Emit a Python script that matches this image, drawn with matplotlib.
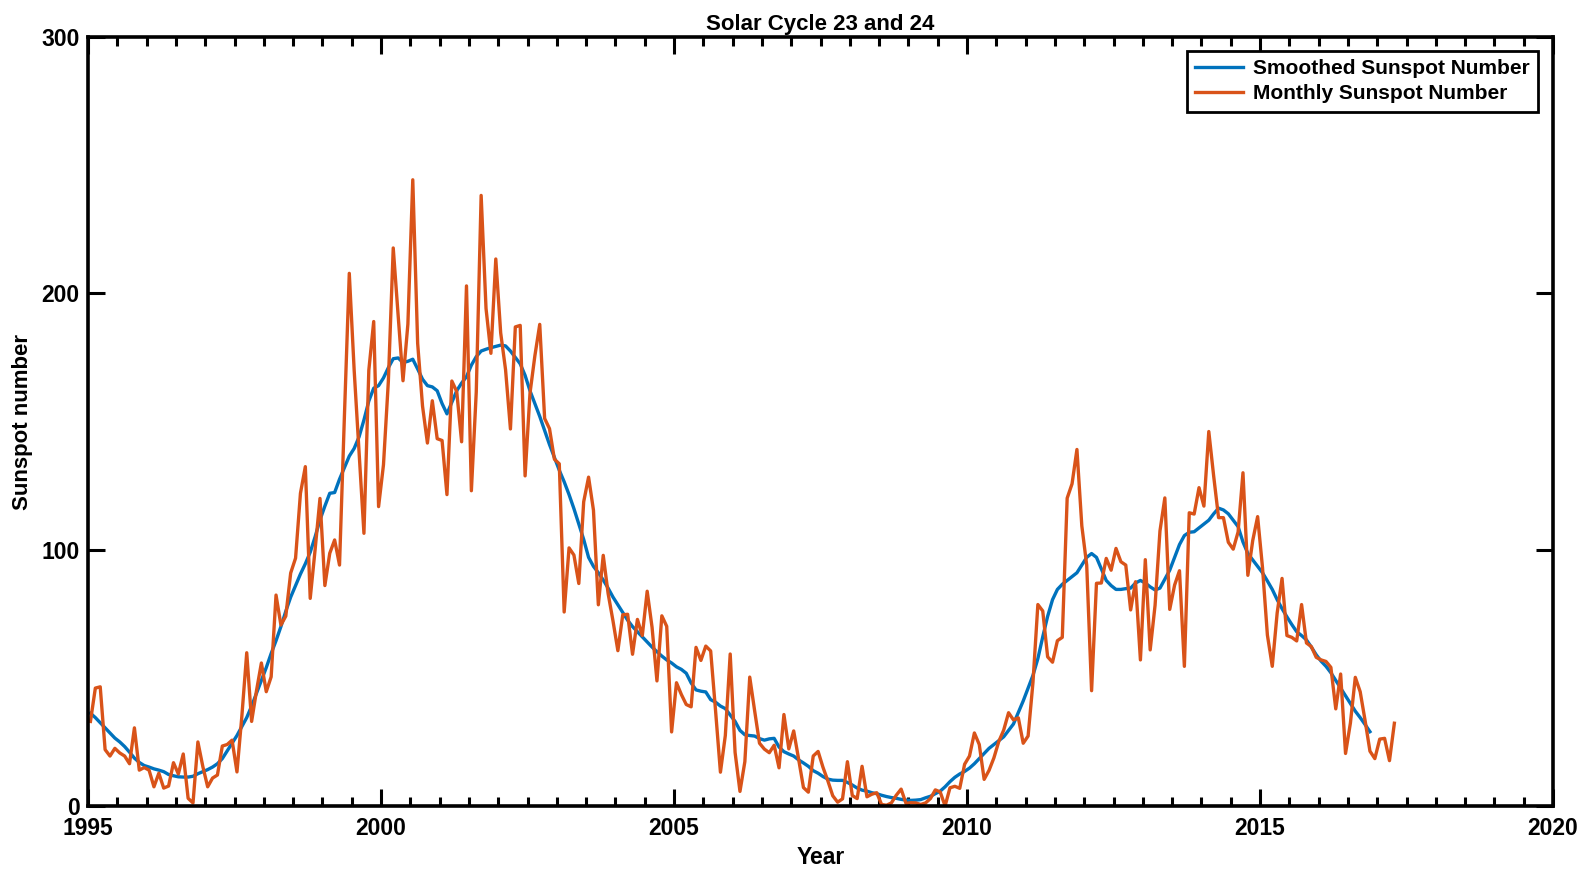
import numpy as np
import matplotlib
matplotlib.use('Agg')
import matplotlib.pyplot as plt

# Monthly mean sunspot number, Jan 1995 .. Apr 2017
monthly = [
    33, 46, 46.5, 22, 19.5, 22.5, 20.7, 19.5, 16.5, 30.5, 14, 15,            # 1995
    14, 7.5, 12.8, 7, 7.8, 16.9, 12.5, 20.3, 3, 1.2, 25, 15.5,               # 1996
    7.5, 10.9, 12.1, 23.4, 24, 25.7, 13.3, 35, 59.8, 33, 45, 55.8,           # 1997
    44.6, 50.4, 82.3, 70.6, 74.1, 90.9, 96.7, 122, 132.4, 81, 100, 120,      # 1998
    86, 98.6, 103.8, 94, 152, 207.8, 170, 138, 106.4, 170, 189, 116.8,       # 1999
    133.1, 165.7, 217.7, 191.5, 165.9, 188.0, 244.3, 180.5, 156.0, 141.6, 158.1, 143.3,  # 2000
    142.6, 121.5, 165.8, 161.7, 142.1, 202.9, 123.0, 161.5, 238.2, 194.1, 176.6, 213.4,  # 2001
    184.6, 170.2, 147.1, 186.9, 187.5, 128.8, 161.0, 175.6, 187.9, 151.2, 147.2, 135.3,  # 2002
    133.5, 75.7, 100.7, 97.9, 86.8, 118.7, 128.3, 115.4, 78.5, 97.8, 82.9, 72.2,         # 2003
    60.6, 74.6, 74.8, 59.2, 72.8, 66.5, 83.8, 69.7, 48.8, 74.2, 70.1, 28.9,              # 2004
    48.1, 43.5, 39.6, 38.7, 61.9, 56.8, 62.4, 60.5, 37.2, 13.2, 27.5, 59.3,              # 2005
    20.9, 5.7, 17.3, 50.3, 37.2, 24.5, 22.2, 20.8, 23.7, 14.9, 35.7, 22.3,               # 2006
    29.3, 18.4, 7.2, 5.4, 19.5, 21.3, 15.1, 9.8, 4.0, 1.5, 2.8, 17.3,                   # 2007
    4.1, 2.9, 15.5, 3.6, 4.6, 5.2, 0.6, 0.3, 1.2, 4.2, 6.6, 1.0,                        # 2008
    1.3, 1.2, 0.6, 1.2, 2.9, 6.3, 5.5, 0.0, 7.1, 7.7, 6.9, 16.3,                        # 2009
    19.5, 28.5, 24.0, 10.4, 13.9, 18.8, 25.2, 29.6, 36.4, 33.6, 34.4, 24.5,              # 2010
    27.3, 48.3, 78.6, 76.1, 58.2, 56.1, 64.5, 65.8, 120.1, 125.7, 139.1, 109.3,          # 2011
    94, 45, 86.9, 87, 96.6, 92, 100.5, 95.3, 94, 76.5, 87.5, 57,                         # 2012
    96.1, 60.9, 78.3, 107.3, 120.2, 76.7, 86.2, 91.8, 54.5, 114.4, 113.9, 124.2,         # 2013
    117.0, 146.1, 128.7, 112.5, 112.5, 102.9, 100.2, 106.9, 130.0, 90.0, 103.6, 112.9,   # 2014
    93.0, 66.7, 54.5, 75.3, 88.8, 66.5, 65.8, 64.4, 78.6, 63.6, 62.2, 58.0,              # 2015
    57.0, 56.4, 54.1, 37.9, 51.5, 20.5, 32.4, 50.2, 44.6, 33.4, 21.4, 18.5,              # 2016
    26.1, 26.4, 17.7, 32.3,                                                               # 2017
]

# 13-month smoothed sunspot number, Jan 1995 .. Nov 2016
smoothed = [
    36.2, 34.5, 32.5, 30.5, 28.5, 26.5, 25, 23.2, 21, 18.7, 17, 15.8,
    15.2, 14.5, 14, 13.4, 12.3, 11.8, 11.4, 11.3, 11.3, 11.6, 12.6, 13.4,
    14.2, 15.2, 16.5, 18.5, 21.5, 24.5, 27.5, 31, 34.5, 39, 44, 49,
    54, 59.5, 64.5, 70, 76, 81.5, 86, 90.5, 94.5, 99, 105, 111.6,
    117, 122, 122.3, 127.5, 132, 136.5, 139.5, 144, 150.6, 158, 163, 164,
    167, 171, 174.5, 174.8, 173, 173.5, 174.3, 170.5, 166.5, 164, 163.5, 162,
    157, 153, 157.5, 162, 165, 167.5, 172, 175.3, 177.5, 178.2, 178.8, 179.3,
    179.8, 179.5, 177.5, 175, 172.5, 168, 162, 157, 152, 146.5, 141, 136,
    131, 126.5, 121.5, 116, 110, 104, 97, 93.5, 91, 88.2, 85, 81.5,
    78.5, 75.5, 72.5, 70, 68, 66, 64, 62, 60.2, 58.5, 57, 55.8,
    54.3, 53.3, 51.8, 48, 45.3, 44.8, 44.5, 41.5, 40.5, 39, 38, 35.5,
    33, 29.5, 27.8, 27.5, 27.3, 26.3, 25.7, 26.2, 26.4, 23, 21.2, 20.3,
    19.5, 18, 16.8, 15.5, 13.8, 12.8, 11.5, 10.5, 10.1, 10, 10, 9.2,
    8.2, 7, 6.2, 5.8, 5.2, 4.8, 4.2, 3.7, 3.3, 3, 2.6, 2.3,
    2.2, 2.3, 2.5, 3.2, 3.8, 4.8, 5.8, 7.5, 9.5, 11.2, 12.5, 13.5,
    14.8, 16.5, 18.5, 20.5, 22.5, 24, 25.5, 27, 29.5, 32, 36.5, 41,
    46, 51, 57.5, 66, 74, 80.5, 84.5, 86.5, 88, 89.5, 91, 94,
    97, 98.5, 97, 92.5, 88, 86, 84.5, 84.5, 84.8, 85, 87, 88,
    87, 85.5, 84.3, 85, 88.5, 92, 97, 102, 105.5, 106.8, 107, 108.5,
    110, 111.5, 114, 116.2, 115.5, 114, 111.5, 109, 103, 98.5, 96, 93.5,
    91, 87.8, 84.5, 80.5, 77, 73.8, 70.8, 68, 66.5, 64.8, 62, 59,
    56.5, 54.5, 52, 49, 46, 43, 40, 37, 34.5, 31.8, 29,
]

start_year = 1995
t_month = start_year + (np.arange(len(monthly)) + 0.5) / 12
t_smooth = start_year + (np.arange(len(smoothed)) + 0.5) / 12

blue = '#0072BD'
orange = '#D95319'

plt.rcParams['font.family'] = ['Liberation Sans', 'DejaVu Sans']
plt.rcParams['font.weight'] = 'bold'

fig = plt.figure(figsize=(15.83, 8.71), dpi=100)
ax = fig.add_axes([0.0556, 0.0746, 0.9255, 0.8829])

ax.plot(t_smooth, smoothed, color=blue, lw=2.4, label='Smoothed Sunspot Number')
ax.plot(t_month, monthly, color=orange, lw=2.4, label='Monthly Sunspot Number')

ax.set_xlim(1995, 2020)
ax.set_ylim(0, 300)
ax.set_xticks([1995, 2000, 2005, 2010, 2015, 2020])
ax.set_xticks(np.arange(1995, 2020.01, 0.5), minor=True)
ax.set_yticks([0, 100, 200, 300])

ax.tick_params(axis='both', which='both', direction='in', top=True, right=True,
               colors='black', width=2.2)
ax.tick_params(axis='both', which='major', length=12, labelsize=16.5)
ax.tick_params(axis='x', which='major', pad=8)
ax.tick_params(axis='y', which='major', pad=6)
ax.tick_params(axis='x', which='minor', length=6.5)
for lab in ax.get_xticklabels() + ax.get_yticklabels():
    lab.set_fontweight('bold')
for s in ax.spines.values():
    s.set_linewidth(2.6)

ax.set_title('Solar Cycle 23 and 24', fontsize=16, fontweight='bold', pad=5)
ax.set_xlabel('Year', fontsize=16.5, fontweight='bold', labelpad=4)
ax.set_ylabel('Sunspot number', fontsize=16, fontweight='bold', labelpad=6)

leg = ax.legend(loc='upper right', bbox_to_anchor=(0.990, 0.982), borderaxespad=0,
                fontsize=15, fancybox=False, framealpha=1, edgecolor='black',
                handlelength=2.3, handletextpad=0.5, borderpad=0.4,
                labelspacing=0.3)
leg.get_frame().set_linewidth(2)
for t in leg.get_texts():
    t.set_fontweight('bold')

fig.savefig('out.png', dpi=100)
